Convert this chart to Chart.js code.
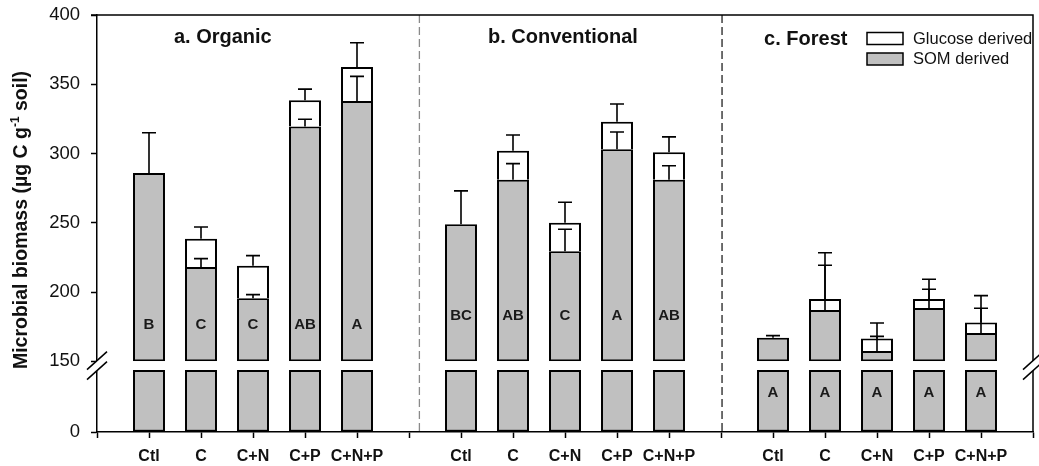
<!DOCTYPE html>
<html>
<head>
<meta charset="utf-8">
<script src="https://cdn.jsdelivr.net/npm/chart.js@4.4.0/dist/chart.umd.min.js"></script>
<style>
  html, body { margin: 0; padding: 0; background: #fff; }
</style>
</head>
<body>
<canvas id="biomassChart" width="1039" height="466"></canvas>
<script>
// Microbial biomass split into glucose- and SOM-derived C, three soils x five treatments
const SOILS = ['a. Organic', 'b. Conventional', 'c. Forest'];
const TREATMENTS = ['Ctl', 'C', 'C+N', 'C+P', 'C+N+P'];

// one value per bar, soils in order a, b, c (µg C g-1 soil)
const SOM_DERIVED = [286, 218, 195.5, 319.5, 338, 249, 281, 229.5, 303, 281, 167, 187, 157.5, 188.5, 170.5];
const GLUCOSE_DERIVED = [0, 20.5, 23.5, 19, 24.5, 0, 21, 20.5, 20, 20, 0, 8, 9, 6.5, 7.5];
// one-sided error bars: on the whole bar and on the SOM part
const ERR_TOTAL = [29, 8.5, 7.3, 8, 17.5, 24, 11.4, 14.8, 12.8, 11, 1.5, 33.4, 11.2, 14.2, 19.4];
const ERR_SOM = [null, 6.1, 2.6, 5.2, 17.7, null, 11.7, 15.8, 12.5, 10.2, null, 32.3, 10.5, 13.5, 17.8];
const LETTERS = ['B', 'C', 'C', 'AB', 'A', 'BC', 'AB', 'C', 'A', 'AB', 'A', 'A', 'A', 'A', 'A'];

const Y_TICKS = [150, 200, 250, 300, 350, 400];
const LOW_TICKS = [0];
const BREAK_AT = 150;
const LOW_AXIS_MAX = 171;

const FONT = '"Liberation Sans", Arial, sans-serif';
const SOM_COLOR = '#c0c0c0';

// x slots: empty slot, 5 bars, empty slot, 5 bars, ... so the panels sit apart
const labels = [''];
const slotOf = [];
SOILS.forEach(() => {
    TREATMENTS.forEach(t => { slotOf.push(labels.length); labels.push(t); });
    labels.push('');
});

function spread(fn) {
    const arr = labels.map(() => null);
    slotOf.forEach((slot, i) => { arr[slot] = fn(i); });
    return arr;
}

const somLower = spread(() => [0, BREAK_AT]);
const somUpper = spread(i => [BREAK_AT, SOM_DERIVED[i]]);
const glucoseBars = spread(i => GLUCOSE_DERIVED[i] > 0 ? [SOM_DERIVED[i], SOM_DERIVED[i] + GLUCOSE_DERIVED[i]] : null);

// panel annotations (x in slot units)
const PANEL_TITLE_X = [2.42, 8.96, 13.63];
const SEPARATORS = [6.2, 12.02];
const SEPARATOR_COLORS = ['#8a8a8a', '#222'];
const LETTER_LEVEL = [{ axis: 'yHigh', v: 176 }, { axis: 'yHigh', v: 183 }, { axis: 'yLow', v: 94 }];

function breakMark(ctx, cx, cy) {
    ctx.save();
    ctx.fillStyle = '#fff';
    ctx.beginPath();
    ctx.moveTo(cx - 10, cy + 4);
    ctx.lineTo(cx + 10, cy - 14);
    ctx.lineTo(cx + 10, cy - 4);
    ctx.lineTo(cx - 10, cy + 14);
    ctx.closePath();
    ctx.fill();
    ctx.strokeStyle = '#000';
    ctx.lineWidth = 1.5;
    [-5, 5].forEach(d => {
        ctx.beginPath();
        ctx.moveTo(cx - 10, cy + 9 + d);
        ctx.lineTo(cx + 10, cy - 9 + d);
        ctx.stroke();
    });
    ctx.restore();
}

const decorations = {
    id: 'decorations',
    beforeDatasetsDraw(chart) {
        const { ctx, chartArea: a, scales: { x } } = chart;
        ctx.save();
        ctx.setLineDash([8, 4]);
        ctx.lineWidth = 1.3;
        SEPARATORS.forEach((pos, k) => {
            const px = x.getPixelForValue(pos);
            ctx.strokeStyle = SEPARATOR_COLORS[k];
            ctx.beginPath();
            ctx.moveTo(px, a.top);
            ctx.lineTo(px, a.bottom);
            ctx.stroke();
        });
        ctx.restore();
    },
    afterDatasetsDraw(chart) {
        const { ctx, scales } = chart;
        const x = scales.x, y = scales.yHigh;
        ctx.save();
        ctx.strokeStyle = '#000';
        ctx.lineWidth = 1.6;
        const errorBar = (px, from, to) => {
            ctx.beginPath();
            ctx.moveTo(px, y.getPixelForValue(from));
            ctx.lineTo(px, y.getPixelForValue(to));
            ctx.moveTo(px - 7, y.getPixelForValue(to));
            ctx.lineTo(px + 7, y.getPixelForValue(to));
            ctx.stroke();
        };
        slotOf.forEach((slot, i) => {
            const px = x.getPixelForValue(slot);
            const total = SOM_DERIVED[i] + GLUCOSE_DERIVED[i];
            errorBar(px, total, total + ERR_TOTAL[i]);
            if (ERR_SOM[i] != null) errorBar(px, SOM_DERIVED[i], SOM_DERIVED[i] + ERR_SOM[i]);
        });

        ctx.fillStyle = '#1a1a1a';
        ctx.font = `bold 15px ${FONT}`;
        ctx.textAlign = 'center';
        ctx.textBaseline = 'middle';
        slotOf.forEach((slot, i) => {
            const lv = LETTER_LEVEL[Math.floor(i / TREATMENTS.length)];
            ctx.fillText(LETTERS[i], x.getPixelForValue(slot), scales[lv.axis].getPixelForValue(lv.v));
        });
        ctx.restore();
    },
    afterDraw(chart) {
        const { ctx, chartArea: a, scales } = chart;
        const x = scales.x;
        ctx.save();
        // top and right frame
        ctx.strokeStyle = '#000';
        ctx.lineWidth = 1.5;
        ctx.beginPath();
        ctx.moveTo(a.left - 6, a.top);
        ctx.lineTo(a.right, a.top);
        ctx.lineTo(a.right, a.bottom);
        ctx.stroke();

        const gapY = (scales.yHigh.getPixelForValue(BREAK_AT) + scales.yLow.getPixelForValue(BREAK_AT)) / 2;
        breakMark(ctx, a.left, gapY);
        breakMark(ctx, a.right, gapY);

        // panel titles
        ctx.fillStyle = '#111';
        ctx.font = `bold 20px ${FONT}`;
        ctx.textAlign = 'center';
        ctx.textBaseline = 'alphabetic';
        SOILS.forEach((s, g) => {
            ctx.fillText(s, x.getPixelForValue(PANEL_TITLE_X[g]), a.top + (g === 2 ? 29.5 : 28));
        });

        // legend
        const lx = a.right - 166;
        [['Glucose derived', '#fff', 17.5], ['SOM derived', SOM_COLOR, 38]].forEach(([txt, fill, dy]) => {
            ctx.fillStyle = fill;
            ctx.fillRect(lx, a.top + dy, 36, 12);
            ctx.lineWidth = 1.5;
            ctx.strokeRect(lx, a.top + dy, 36, 12);
            ctx.fillStyle = '#111';
            ctx.font = `16.5px ${FONT}`;
            ctx.textAlign = 'left';
            ctx.textBaseline = 'middle';
            ctx.fillText(txt, lx + 46, a.top + dy + 6.5);
        });

        // rotated y title with superscript
        ctx.translate(22, 220);
        ctx.rotate(-Math.PI / 2);
        const big = `bold 19.5px ${FONT}`, small = `bold 12px ${FONT}`;
        const p1 = 'Microbial biomass (\u00b5g C g', sup = '-1', p2 = ' soil)';
        ctx.font = big;
        const w1 = ctx.measureText(p1).width, w3 = ctx.measureText(p2).width;
        ctx.font = small;
        const w2 = ctx.measureText(sup).width;
        let x0 = -(w1 + w2 + w3) / 2;
        ctx.textAlign = 'left';
        ctx.textBaseline = 'middle';
        ctx.font = big;
        ctx.fillText(p1, x0, 0);
        ctx.font = small;
        ctx.fillText(sup, x0 + w1, -6);
        ctx.font = big;
        ctx.fillText(p2, x0 + w1 + w2, 0);
        ctx.restore();
    }
};

const barStyle = { borderColor: '#000', borderWidth: 2, borderSkipped: false, grouped: false };
const axisGrid = { display: true, drawOnChartArea: false, drawTicks: true, tickLength: 6, tickColor: '#000', tickWidth: 1.5, color: '#000' };
const axisBorder = { display: true, color: '#000', width: 1.5 };
const yTickStyle = { font: { family: FONT, size: 18.5 }, color: '#111', padding: 11, autoSkip: false };
// fixed axis sizes; drop the label overhang so layout padding sets the plot edges
const fitY = s => { s.width = 97; s.paddingTop = 0; s.paddingBottom = 0; };
const fitX = s => { s.height = 34; s.paddingLeft = 0; s.paddingRight = 0; };

new Chart(document.getElementById('biomassChart'), {
    type: 'bar',
    data: {
        labels,
        datasets: [
            { label: 'SOM derived', data: somLower, yAxisID: 'yLow', backgroundColor: SOM_COLOR, ...barStyle },
            { label: 'SOM derived', data: somUpper, yAxisID: 'yHigh', backgroundColor: SOM_COLOR, ...barStyle },
            { label: 'Glucose derived', data: glucoseBars, yAxisID: 'yHigh', backgroundColor: '#fff', ...barStyle, borderSkipped: 'start' }
        ]
    },
    options: {
        responsive: false,
        animation: false,
        devicePixelRatio: 1,
        categoryPercentage: 1,
        barPercentage: 0.615,
        layout: { padding: { top: 15, right: 6, left: 0, bottom: 0 } },
        plugins: { legend: { display: false }, tooltip: { enabled: false } },
        scales: {
            x: {
                type: 'category',
                offset: false,
                grid: { ...axisGrid, offset: false },
                border: axisBorder,
                ticks: { autoSkip: false, maxRotation: 0, font: { family: FONT, size: 16, weight: 'bold' }, color: '#111', padding: 9 },
                afterFit: fitX
            },
            yLow: {
                type: 'linear',
                position: 'left',
                stack: 'y',
                stackWeight: 70.7,
                min: 0,
                max: LOW_AXIS_MAX,
                afterBuildTicks: s => { s.ticks = LOW_TICKS.map(v => ({ value: v })); },
                grid: axisGrid,
                border: axisBorder,
                ticks: yTickStyle,
                afterFit: fitY
            },
            yHigh: {
                type: 'linear',
                position: 'left',
                stack: 'y',
                stackWeight: 346.3,
                min: 150,
                max: 400,
                afterBuildTicks: s => { s.ticks = Y_TICKS.map(v => ({ value: v })); },
                grid: axisGrid,
                border: axisBorder,
                ticks: yTickStyle,
                afterFit: fitY
            }
        }
    },
    plugins: [decorations]
});
</script>
</body>
</html>
